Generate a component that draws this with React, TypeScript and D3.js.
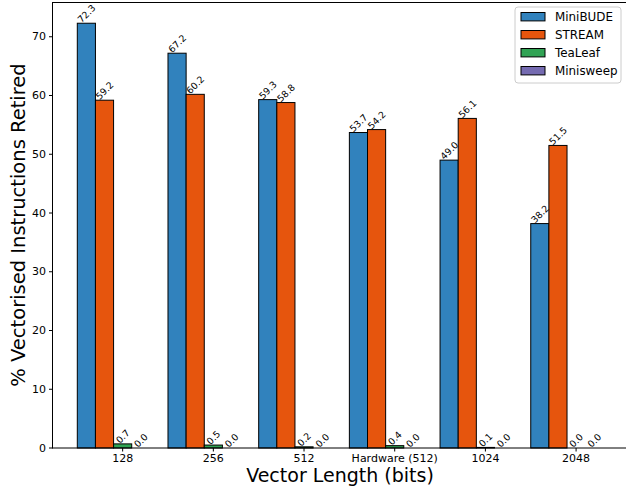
import React from "react";
import * as d3 from "d3";

const categories = ["128", "256", "512", "Hardware (512)", "1024", "2048"];
const seriesNames = ["MiniBUDE", "STREAM", "TeaLeaf", "Minisweep"];
const miniBUDE = [72.3, 67.2, 59.3, 53.7, 49.0, 38.2];
const stream = [59.2, 60.2, 58.8, 54.2, 56.1, 51.5];
const teaLeaf = [0.7, 0.5, 0.2, 0.4, 0.1, 0.0];
const minisweep = [0.0, 0.0, 0.0, 0.0, 0.0, 0.0];
const yTicks = [0, 10, 20, 30, 40, 50, 60, 70];
const colors = ["#3182bd", "#e6550d", "#31a354", "#756bb1"];

const series = [miniBUDE, stream, teaLeaf, minisweep];

const W = 626;
const H = 486;
const FONT = "DejaVu Sans, sans-serif";
const BAR_W = 0.2;

export default function App() {
  const x = d3.scaleLinear().domain([-0.379, 5.979]).range([52, 628.6]);
  const y = d3.scaleLinear().domain([0, 75.915]).range([448, 2]);
  const bw = x(BAR_W) - x(0);

  const labelSize = 9.3;
  const textLen = (s: string) =>
    s.split("").reduce((a, c) => a + (c === "." ? 0.318 : 0.636), 0) * labelSize;
  const glyphH = 0.73 * labelSize;

  return (
    <svg
      width={W}
      height={H}
      style={{ position: "absolute", left: 0, top: 0, background: "#fff" }}
      fontFamily={FONT}
    >
      <rect x={0} y={0} width={W} height={H} fill="#fff" />
      {/* bars */}
      {series.map((vals, si) =>
        vals.map((v, ci) => {
          const cx = x(ci + si * BAR_W);
          return (
            <rect
              key={`b${si}-${ci}`}
              x={cx - bw / 2}
              y={y(v)}
              width={bw}
              height={y(0) - y(v)}
              fill={colors[si]}
              stroke="#000"
              strokeWidth={1}
            />
          );
        })
      )}
      {/* value labels, rotated 45 degrees */}
      {series.map((vals, si) =>
        vals.map((v, ci) => {
          const cx = x(ci + si * BAR_W);
          const s = v.toFixed(1);
          const half = ((textLen(s) + glyphH) / 2) * Math.SQRT1_2;
          return (
            <text
              key={`t${si}-${ci}`}
              transform={`translate(${cx},${y(v) - half}) rotate(-45)`}
              textAnchor="middle"
              dominantBaseline="central"
              fontSize={labelSize}
              fill="#000"
            >
              {s}
            </text>
          );
        })
      )}
      {/* axes spines */}
      <line x1={52} x2={W} y1={2.5} y2={2.5} stroke="#000" strokeWidth={1} />
      <line x1={52} x2={W} y1={448} y2={448} stroke="#000" strokeWidth={1} />
      <line x1={52.5} x2={52.5} y1={2} y2={448.5} stroke="#000" strokeWidth={1} />
      {/* y ticks */}
      {yTicks.map((t) => (
        <g key={`y${t}`}>
          <line x1={49} x2={52} y1={y(t)} y2={y(t)} stroke="#000" />
          <text
            x={46}
            y={y(t)}
            textAnchor="end"
            dominantBaseline="central"
            fontSize={11}
            fill="#000"
          >
            {t}
          </text>
        </g>
      ))}
      {/* x ticks */}
      {categories.map((c, ci) => {
        const tx = x(ci + 2 * BAR_W);
        return (
          <g key={`x${ci}`}>
            <line x1={tx} x2={tx} y1={448} y2={451.5} stroke="#000" />
            <text x={tx} y={462} textAnchor="middle" fontSize={11} fill="#000">
              {c}
            </text>
          </g>
        );
      })}
      {/* axis titles */}
      <text x={340} y={482} textAnchor="middle" fontSize={19} fill="#000">
        Vector Length (bits)
      </text>
      <text
        transform="translate(25,225) rotate(-90)"
        textAnchor="middle"
        fontSize={19.5}
        fill="#000"
      >
        % Vectorised Instructions Retired
      </text>
      {/* legend */}
      <g>
        <rect
          x={515}
          y={7}
          width={106}
          height={76}
          rx={3}
          fill="#fff"
          fillOpacity={0.8}
          stroke="#ccc"
          strokeWidth={1}
        />
        {seriesNames.map((n, i) => (
          <g key={n} transform={`translate(521,${16.7 + i * 18})`}>
            <rect x={0} y={-4.2} width={24} height={8.4} fill={colors[i]} stroke="#000" strokeWidth={1} />
            <text x={34} y={0} dominantBaseline="central" fontSize={11.9} fill="#000">
              {n}
            </text>
          </g>
        ))}
      </g>
    </svg>
  );
}
